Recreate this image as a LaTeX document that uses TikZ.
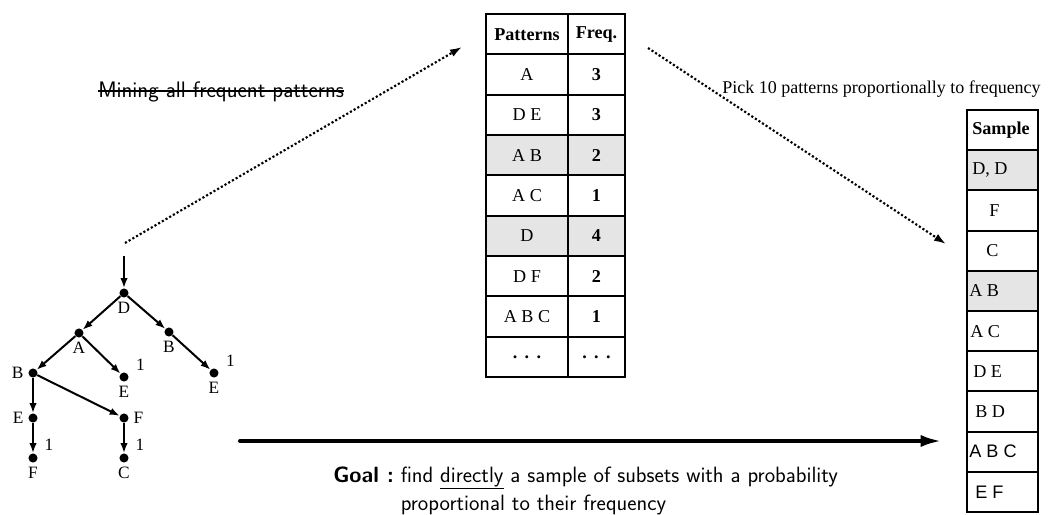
\documentclass[tikz,border=0pt]{standalone}
\usepackage{fontspec}
\setmainfont{Liberation Serif}
\newfontfamily\arialfont{Liberation Sans}
\usetikzlibrary{arrows.meta}

\begin{document}
\begin{tikzpicture}[x=0.75pt,y=-0.75pt]
\tikzset{
  dot/.style={circle,fill,inner sep=0pt,minimum size=6.8pt},
  edgea/.style={-{Latex[length=7.5pt,width=5.5pt]},line width=1.5pt},
  dotarrow/.style={-{Latex[length=9pt,width=6pt]},line width=1.6pt,dash pattern=on 1.6pt off 1.6pt},
  cell/.style={draw,line width=1.6pt,inner sep=0pt,minimum height=30.2pt},
  txt/.style={anchor=west,inner sep=0pt},
  every label/.style={font=\fontsize{13}{15}\selectfont}
}
\newcommand{\tdots}{.\hspace{5.5pt}.\hspace{5.5pt}.}
\useasboundingbox (0,0) rectangle (1048,514);

% texto riscado e texto da amostragem
\node[anchor=base west,inner sep=0pt,font=\sffamily\fontsize{16.8}{20}\selectfont] (mine) at (98,97) {Mining all frequent patterns};
\draw[line width=0.8pt] ([yshift=4.5pt]mine.base west) -- ([yshift=4.5pt]mine.base east);
\node[anchor=base west,inner sep=0pt,font=\fontsize{13.5}{16}\selectfont] (pick) at (722,93) {Pick 10 patterns proportionally to frequency};

% tabela dos padrões (Patterns / Freq.)
\foreach \pat/\fr/\cor [count=\i from 0] in {{\textbf{Patterns}}/{Freq.}/white, A/3/white, D E/3/white, A B/2/gray!20, A C/1/white, D/4/gray!20, D F/2/white, A B C/1/white, {\textbf{\tdots}}/{\tdots}/white}
{
  \node[cell,fill=\cor,minimum width=61.5pt,font=\fontsize{13.6}{16}\selectfont] (p\i) at (527,{14+40.33*(\i+0.5)}) {\pat};
  \node[cell,fill=\cor,minimum width=42.75pt,font=\fontsize{13.6}{16}\selectfont] (f\i) at (596.5,{14+40.33*(\i+0.5)}) {\textbf{\fr}};
}

% tabela da amostra (Sample)
\foreach \smp/\dx/\cor [count=\i from 0] in {{\textbf{Sample}}/5/white, {D, D}/5/gray!20, F/22/white, C/19/white, A B/2/gray!20, A C/3/white, D E/6/white, B D/8/white, {\arialfont A B C}/2/white, {\arialfont E F}/8/white}
{
  \node[cell,fill=\cor,minimum width=53.25pt] (s\i) at (1002.5,{110+40.2*(\i+0.5)}) {};
  \node[txt,font=\fontsize{13.6}{16}\selectfont] (st\i) at ({967+\dx},{110+40.2*(\i+0.5)}) {\smp};
}

% árvore (nós com rótulos)
\node[dot,label=below:D] (d) at (124,293) {};
\node[dot,label=below:A] (a) at (79,333) {};
\node[dot,label=below:B] (bd) at (169,332) {};
\node[dot,label=below:E,label={[label distance=2pt]12:1}] (ea) at (124,377) {};
\node[dot,label=below:E,label={[label distance=2pt]12:1}] (eb) at (214,373) {};
\node[dot,label=left:B] (be) at (33,373) {};
\node[dot,label=left:E] (ee) at (33,418) {};
\node[dot,label=right:F] (fe) at (124,418) {};
\node[dot,label=below:F,label={[label distance=2pt]20:1}] (ff) at (33,458) {};
\node[dot,label=below:C,label={[label distance=2pt]20:1}] (cf) at (124,458) {};
\coordinate (topo) at (124,256);

% arestas da árvore
\draw[edgea] (topo) -- (d);
\draw[edgea] (d) -- (a);
\draw[edgea] (d) -- (bd);
\draw[edgea] (a) -- (be);
\draw[edgea] (a) -- (ea);
\draw[edgea] (bd) -- (eb);
\draw[edgea] (be) -- (ee);
\draw[edgea] (be) -- (fe);
\draw[edgea] (ee) -- (ff);
\draw[edgea] (fe) -- (cf);

% setas pontilhadas
\coordinate (m1) at (125,243);
\coordinate (m2) at (462,47);
\coordinate (k1) at (648,48);
\coordinate (k2) at (946,244);
\draw[dotarrow] (m1) -- (m2);
\draw[dotarrow] (k1) -- (k2);

% seta grande e objetivo
\coordinate (g1) at (240,441);
\coordinate (g2) at (942,441);
\draw[line width=3pt,line cap=round,-{Latex[length=16pt,width=9pt]}] (g1) -- (g2);
\node[anchor=base west,inner sep=0pt,font=\sffamily\fontsize{16.6}{21}\selectfont] (goal) at (333,482)
  {\begin{tabular}[t]{@{}l@{\ }l@{}}\textbf{Goal :} & find \underline{directly} a sample of subsets with a probability\\ & proportional to their frequency\end{tabular}};
\end{tikzpicture}
\end{document}
